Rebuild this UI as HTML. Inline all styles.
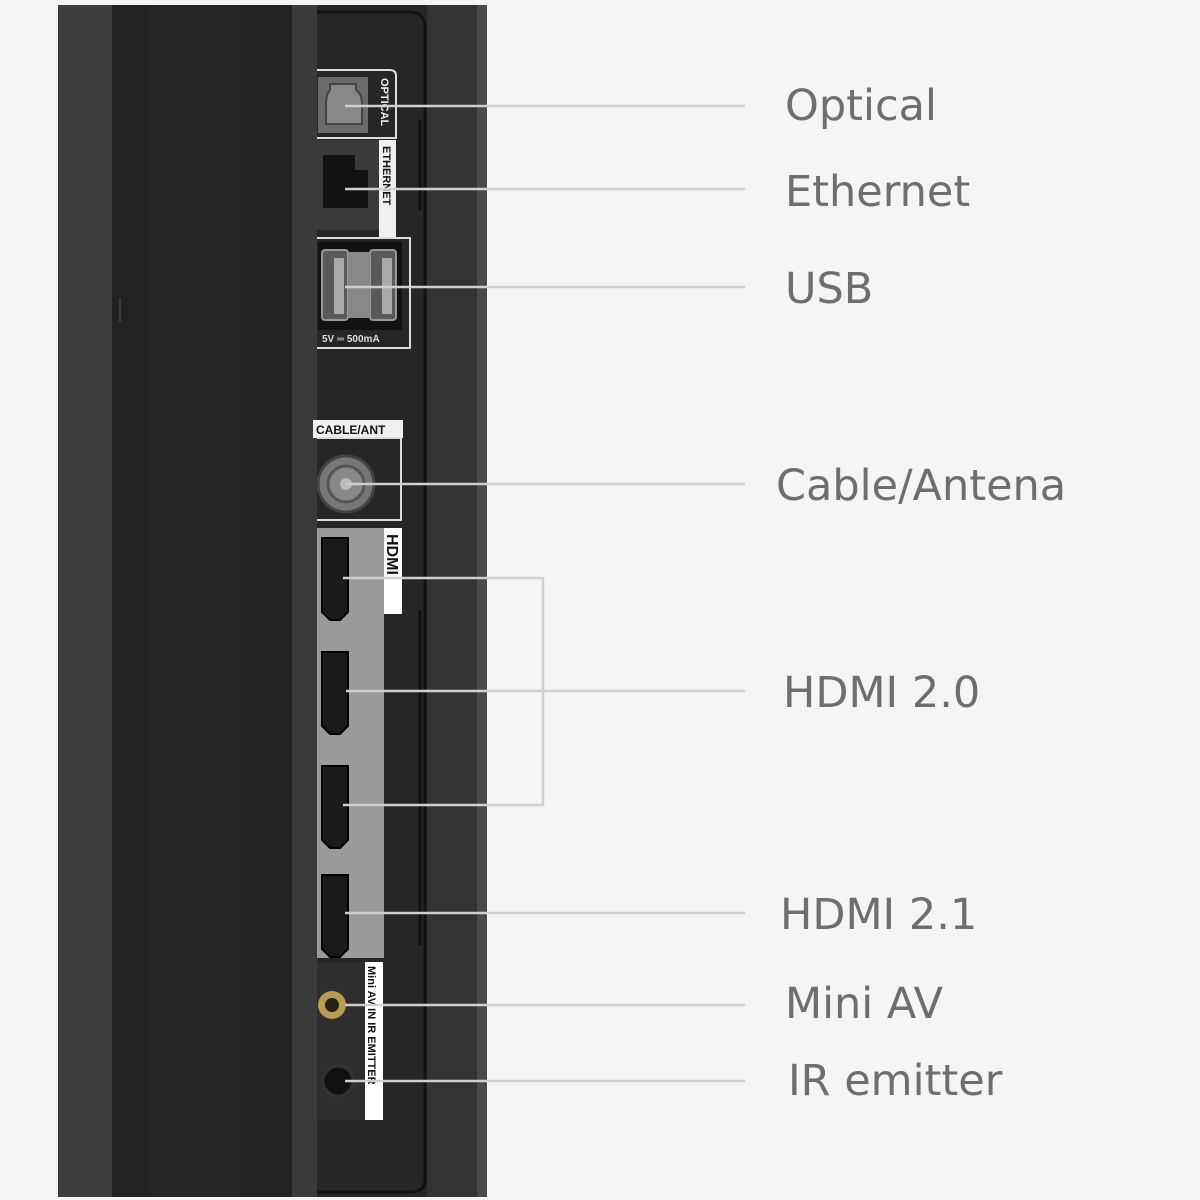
<!DOCTYPE html>
<html><head><style>
html,body{margin:0;padding:0;background:#f5f5f5;}
svg{display:block}
text.l{font-family:"DejaVu Sans","Liberation Sans",sans-serif;font-size:43px;fill:#6e6e6e}
text.s{font-family:"Liberation Sans",sans-serif;font-weight:bold;fill:#111}
</style></head><body>
<svg width="1200" height="1200" viewBox="0 0 1200 1200" xmlns="http://www.w3.org/2000/svg">
<rect width="1200" height="1200" fill="#f5f5f5"/>
<!-- panel -->
<rect x="58" y="5" width="429" height="1192" fill="#2a2a2a"/>
<rect x="58" y="5" width="54" height="1192" fill="#3d3d3d"/>
<rect x="112" y="5" width="180" height="1192" fill="#222"/>
<rect x="150" y="5" width="90" height="1192" fill="#252525"/>
<rect x="292" y="5" width="25" height="1192" fill="#3a3a3a"/>
<rect x="317" y="5" width="110" height="1192" fill="#262626"/>
<rect x="427" y="5" width="50" height="1192" fill="#333"/>
<rect x="477" y="5" width="10" height="1192" fill="#4a4a4a"/>
<path d="M317 12 H410 Q425 12 425 28 V1180 Q425 1192 410 1192 H317" fill="none" stroke="#111" stroke-width="3"/>
<line x1="420" y1="120" x2="420" y2="210" stroke="#111" stroke-width="3"/>
<line x1="420" y1="610" x2="420" y2="945" stroke="#111" stroke-width="3"/>
<line x1="120" y1="298" x2="120" y2="322" stroke="#555" stroke-width="1"/>
<!-- optical -->
<path d="M317 70 H390 Q396 70 396 76 V138 H317" fill="none" stroke="#ddd" stroke-width="2"/>
<rect x="318" y="77" width="50" height="56" fill="#6a6a6a"/>
<path d="M330 84 H356 V90 Q362 94 362 104 V124 H326 V104 Q326 94 330 90 Z" fill="#888" stroke="#444" stroke-width="2"/>
<text class="s" font-size="11" fill="#eee" transform="translate(381,78) rotate(90)" style="fill:#eee">OPTICAL</text>
<!-- ethernet -->
<rect x="317" y="140" width="62" height="90" fill="#3a3a3a"/>
<rect x="379" y="140" width="17" height="97" fill="#f0f0f0"/>
<path d="M323 155 H355 V170 H368 V208 H323 Z" fill="#111"/>
<text class="s" font-size="11" transform="translate(383,146) rotate(90)">ETHERNET</text>
<!-- USB -->
<path d="M317 238 H410 V348 H317" fill="none" stroke="#ddd" stroke-width="2"/>
<rect x="318" y="242" width="84" height="88" fill="#111"/>
<rect x="322" y="250" width="26" height="70" fill="#5a5a5a" stroke="#999" stroke-width="2" rx="3"/>
<rect x="370" y="250" width="26" height="70" fill="#5a5a5a" stroke="#999" stroke-width="2" rx="3"/>
<rect x="348" y="252" width="22" height="66" fill="#888"/>
<rect x="334" y="258" width="10" height="56" fill="#aaa"/>
<rect x="382" y="258" width="10" height="56" fill="#aaa"/>
<text class="s" font-size="10" x="322" y="342" style="fill:#ddd">5V ═ 500mA</text>
<!-- cable -->
<rect x="313" y="420" width="90" height="18" fill="#f0f0f0"/>
<text class="s" font-size="12" x="316" y="434">CABLE/ANT</text>
<path d="M317 438 H401 V520 H317" fill="none" stroke="#ddd" stroke-width="2"/>
<circle cx="346" cy="484" r="28" fill="#777" stroke="#444" stroke-width="3"/>
<circle cx="346" cy="484" r="18" fill="#888" stroke="#555" stroke-width="3"/>
<circle cx="346" cy="484" r="6" fill="#bbb"/>
<!-- HDMI panel -->
<rect x="317" y="528" width="67" height="430" fill="#9a9a9a"/>
<rect x="384" y="528" width="18" height="86" fill="#fff"/>
<text class="s" font-size="16" transform="translate(387,534) rotate(90)">HDMI</text>
<g fill="#1a1a1a" stroke="#000" stroke-width="2">
<path d="M322 538 H348 V612 L340 620 H330 L322 612 Z"/>
<path d="M322 652 H348 V726 L340 734 H330 L322 726 Z"/>
<path d="M322 766 H348 V840 L340 848 H330 L322 840 Z"/>
<path d="M322 875 H348 V949 L340 957 H330 L322 949 Z"/>
</g>
<!-- mini av / ir -->
<rect x="317" y="962" width="48" height="158" fill="#2e2e2e"/>
<rect x="365" y="962" width="18" height="158" fill="#fff"/>
<text class="s" font-size="11" transform="translate(368,966) rotate(90)">Mini AV IN  IR EMITTER</text>
<circle cx="332" cy="1005" r="14" fill="#b89a55"/>
<circle cx="332" cy="1005" r="7" fill="#221"/>
<circle cx="338" cy="1081" r="15" fill="#111" stroke="#333" stroke-width="3"/>
<!-- connectors -->
<g stroke="#cfcfcf" stroke-width="2.5" fill="none">
<line x1="345" y1="106" x2="745" y2="106"/>
<line x1="345" y1="189" x2="745" y2="189"/>
<line x1="345" y1="287" x2="745" y2="287"/>
<line x1="346" y1="484" x2="745" y2="484"/>
<polyline points="343,578 543,578 543,805 343,805"/>
<line x1="346" y1="691" x2="745" y2="691"/>
<line x1="345" y1="913" x2="745" y2="913"/>
<line x1="345" y1="1005" x2="745" y2="1005"/>
<line x1="345" y1="1081" x2="745" y2="1081"/>
</g>
<!-- labels -->
<text class="l" x="785" y="120">Optical</text>
<text class="l" x="785" y="206">Ethernet</text>
<text class="l" x="785" y="303">USB</text>
<text class="l" x="776" y="500">Cable/Antena</text>
<text class="l" x="783" y="707">HDMI 2.0</text>
<text class="l" x="780" y="929">HDMI 2.1</text>
<text class="l" x="785" y="1018">Mini AV</text>
<text class="l" x="788" y="1095">IR emitter</text>
</svg>
</body></html>
